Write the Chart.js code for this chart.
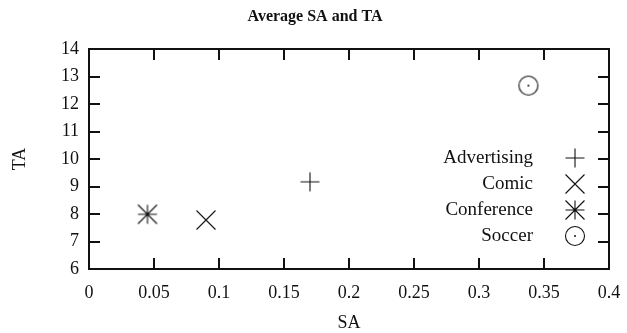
<!DOCTYPE html>
<html>
<head>
<meta charset="utf-8">
<script src="https://cdn.jsdelivr.net/npm/chart.js@4.4.1/dist/chart.umd.min.js"></script>
<style>
  html, body { margin: 0; padding: 0; background: #fff; }
  #wrap { width: 627px; height: 333px; }
</style>
</head>
<body>
<div id="wrap"><canvas id="c" width="627" height="333"></canvas></div>
<script>
// Average SA / TA per corpus
const categories = ['Advertising', 'Comic', 'Conference', 'Soccer'];
const saValues = [0.170, 0.090, 0.045, 0.338];
const taValues = [9.17, 7.78, 7.99, 12.67];
const xTickValues = [0, 0.05, 0.1, 0.15, 0.2, 0.25, 0.3, 0.35, 0.4];
const yTickValues = [6, 7, 8, 9, 10, 11, 12, 13, 14];

const FONT = '"Liberation Serif", "Times New Roman", serif';
const INK = '#111';

// gnuplot-like point glyphs drawn onto small canvases
function glyph(kind) {
  const s = 22, h = s / 2, r = 9.5;
  const cv = document.createElement('canvas');
  cv.width = s; cv.height = s;
  const g = cv.getContext('2d');
  g.strokeStyle = INK; g.fillStyle = INK; g.lineWidth = 1.1;
  g.beginPath();
  if (kind === 'plus' || kind === 'star') {
    g.moveTo(h - r, h); g.lineTo(h + r, h);
    g.moveTo(h, h - r); g.lineTo(h, h + r);
  }
  if (kind === 'cross' || kind === 'star') {
    g.moveTo(h - r, h - r); g.lineTo(h + r, h + r);
    g.moveTo(h - r, h + r); g.lineTo(h + r, h - r);
  }
  if (kind === 'circle') {
    g.arc(h, h, r, 0, Math.PI * 2);
  }
  g.stroke();
  if (kind === 'circle' || kind === 'star') {
    g.beginPath(); g.arc(h, h, 1, 0, Math.PI * 2); g.fill();
  }
  return cv;
}
const markerKinds = ['plus', 'cross', 'star', 'circle'];

const datasets = categories.map((name, i) => ({
  label: name,
  data: [{ x: saValues[i], y: taValues[i] }],
  pointStyle: glyph(markerKinds[i]),
  pointRadius: 11,
  pointHoverRadius: 11
}));

// Frame, inward ticks, title and right-aligned key
const gnuplotFrame = {
  id: 'gnuplotFrame',
  afterDraw(chart, args, opts) {
    const { ctx, chartArea: a, scales } = chart;
    ctx.save();
    ctx.strokeStyle = INK;
    ctx.lineWidth = 2;
    ctx.strokeRect(a.left, a.top, a.right - a.left, a.bottom - a.top);
    const L = opts.tickLen;
    ctx.beginPath();
    xTickValues.forEach(v => {
      const px = Math.round(scales.x.getPixelForValue(v));
      ctx.moveTo(px, a.bottom); ctx.lineTo(px, a.bottom - L);
      ctx.moveTo(px, a.top); ctx.lineTo(px, a.top + L);
    });
    yTickValues.forEach(v => {
      const py = Math.round(scales.y.getPixelForValue(v));
      ctx.moveTo(a.left, py); ctx.lineTo(a.left + L, py);
      ctx.moveTo(a.right, py); ctx.lineTo(a.right - L, py);
    });
    ctx.stroke();

    // title
    ctx.fillStyle = INK;
    ctx.font = 'bold 16px ' + FONT;
    ctx.textAlign = 'center';
    ctx.textBaseline = 'middle';
    ctx.fillText(opts.title, opts.titleX, opts.titleY);

    // key
    ctx.font = '19px ' + FONT;
    ctx.textAlign = 'right';
    chart.data.datasets.forEach((ds, i) => {
      const y = opts.keyTop + i * opts.keyGap;
      ctx.fillText(ds.label, opts.keyTextRight, y);
      const img = ds.pointStyle;
      ctx.drawImage(img, opts.keySymbolX - img.width / 2, y - img.height / 2);
    });
    ctx.restore();
  }
};

new Chart(document.getElementById('c'), {
  type: 'scatter',
  data: { datasets },
  plugins: [gnuplotFrame],
  options: {
    responsive: false,
    animation: false,
    layout: { padding: { left: 0, right: 18, top: 49, bottom: 0 } },
    plugins: {
      legend: { display: false },
      tooltip: { enabled: false },
      gnuplotFrame: {
        tickLen: 11,
        title: 'Average SA and TA',
        titleX: 315, titleY: 17,
        keyTextRight: 533, keySymbolX: 575,
        keyTop: 158, keyGap: 26
      }
    },
    scales: {
      x: {
        type: 'linear',
        min: 0, max: 0.4,
        afterBuildTicks: s => { s.ticks = xTickValues.map(v => ({ value: v })); },
        afterFit: s => { s.height = 64; s.paddingLeft = 0; s.paddingRight = 0; },
        grid: { display: false, drawTicks: false },
        border: { display: false },
        ticks: {
          color: INK, padding: 13,
          font: { family: FONT, size: 18 },
          callback: v => String(+v.toFixed(2))
        },
        title: {
          display: true, text: 'SA', color: INK,
          font: { family: FONT, size: 18, lineHeight: 1.0 },
          padding: { top: 0, bottom: 1 }
        }
      },
      y: {
        type: 'linear',
        min: 6, max: 14,
        afterBuildTicks: s => { s.ticks = yTickValues.map(v => ({ value: v })); },
        afterFit: s => { s.width = 89; },
        grid: { display: false, drawTicks: false },
        border: { display: false },
        ticks: {
          color: INK, padding: 10,
          font: { family: FONT, size: 18 }
        },
        title: {
          display: true, text: 'TA', color: INK,
          font: { family: FONT, size: 18, lineHeight: 1.0 },
          padding: { top: 11, bottom: 0 }
        }
      }
    }
  }
});
</script>
</body>
</html>
